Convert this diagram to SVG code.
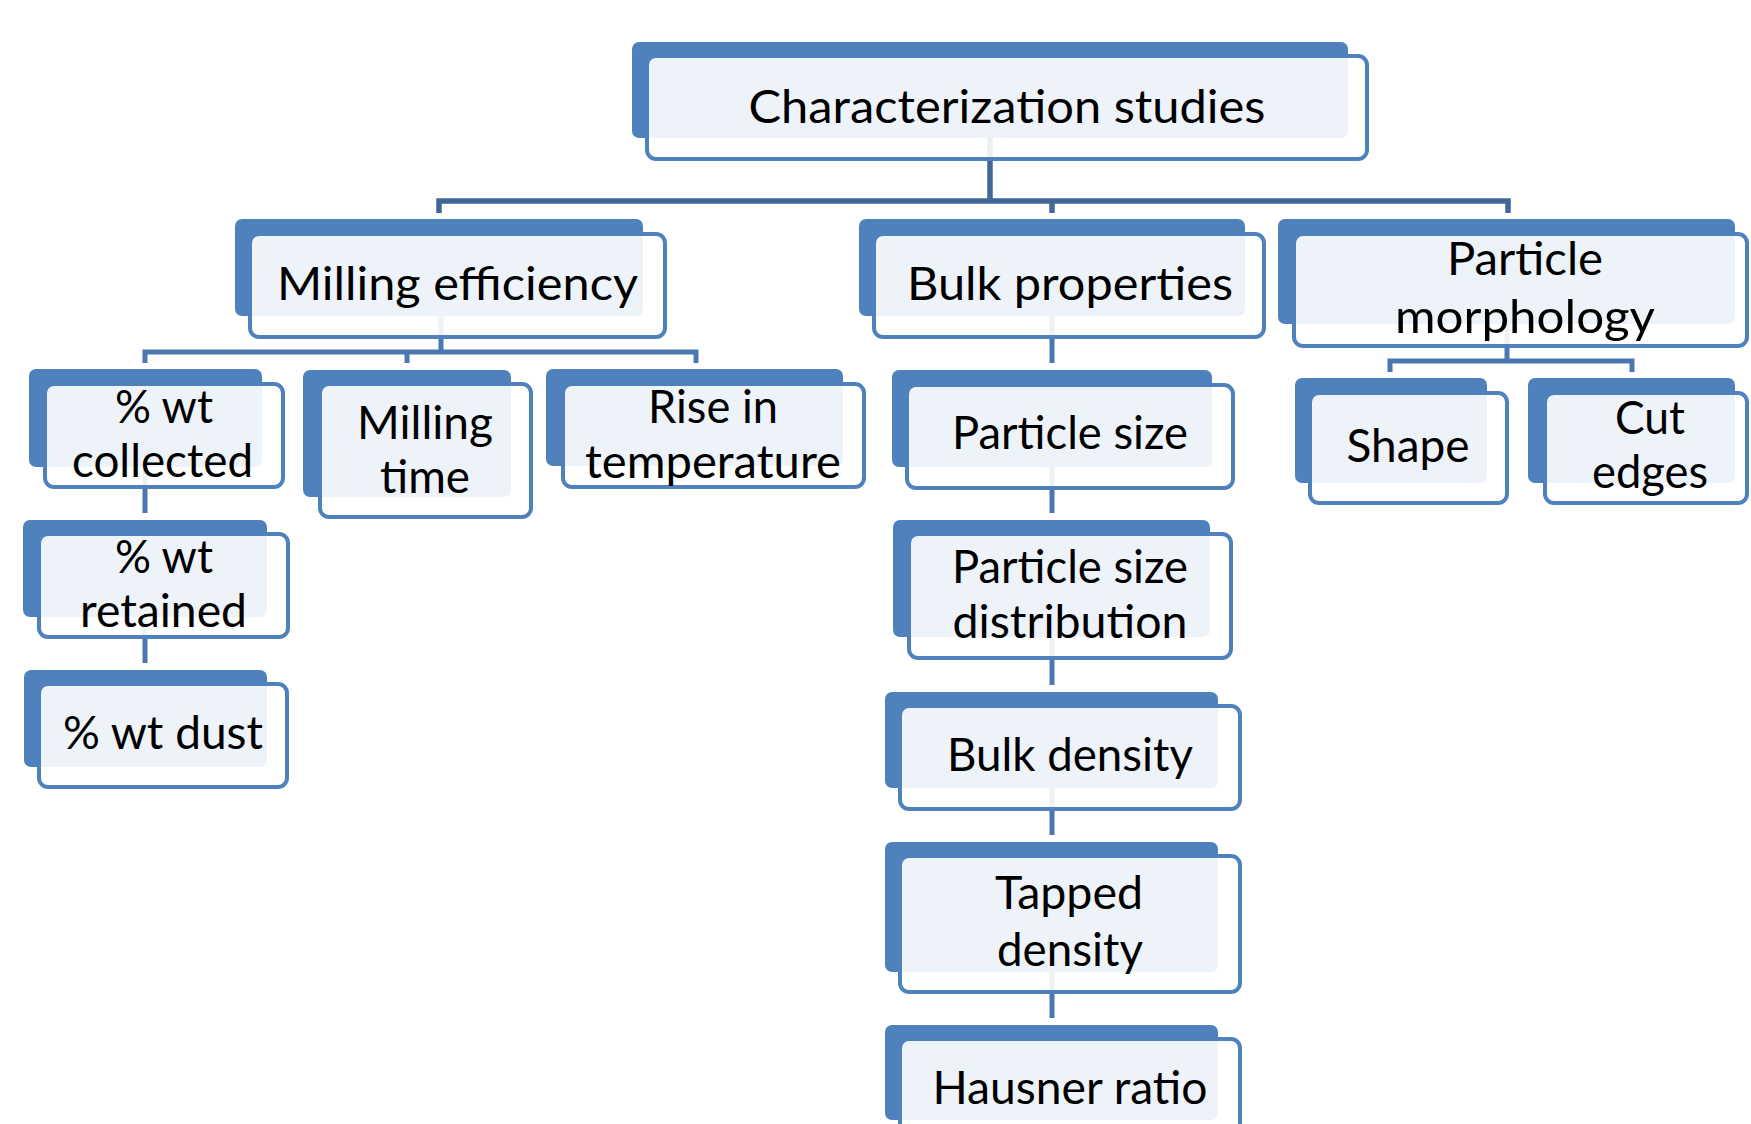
<svg xmlns="http://www.w3.org/2000/svg" width="1751" height="1124" viewBox="0 0 1751 1124">
<defs>
<style>
.back{fill:#4F81BD;}
.front{fill:#FFFFFF;fill-opacity:0.9;stroke:#4F81BD;stroke-width:4;}
.lbl{font-family:Lato,"Open Sans","Liberation Sans",sans-serif;font-size:47px;fill:#000000;text-anchor:middle;}
.conn{fill:none;stroke:#4A77B0;stroke-width:5;stroke-linejoin:miter;stroke-linecap:butt;}
.conn0{fill:none;stroke:#416796;stroke-width:5.5;stroke-linejoin:miter;stroke-linecap:butt;}
</style>
</defs>
<rect width="1751" height="1124" fill="#FFFFFF"/>
<g id="connectors">
<path class="conn0" d="M990 100 V201"/>
<path class="conn0" d="M439 213 V201 H1508 V213"/>
<path class="conn0" d="M1052 201 V213"/>
<path class="conn" d="M441 290 V352"/>
<path class="conn" d="M145 363 V352 H696 V363"/>
<path class="conn" d="M407 352 V363"/>
<path class="conn" d="M145 440 V513"/>
<path class="conn" d="M145 590 V663"/>
<path class="conn" d="M1052 290 V363"/>
<path class="conn" d="M1052 440 V513"/>
<path class="conn" d="M1052 600 V685"/>
<path class="conn" d="M1052 760 V835"/>
<path class="conn" d="M1052 930 V1018"/>
<path class="conn" d="M1507 300 V361"/>
<path class="conn" d="M1390 372 V361 H1632 V372"/>
</g>
<g id="node-root">
<rect class="back" x="632" y="42" width="716" height="96" rx="7"/>
<rect class="front" x="647" y="56" width="720" height="103" rx="9"/>
<text class="lbl" x="1007" y="123" textLength="517" lengthAdjust="spacingAndGlyphs">Characterization studies</text>
</g>
<g id="node-milling-efficiency">
<rect class="back" x="235" y="219" width="408" height="97" rx="7"/>
<rect class="front" x="250" y="234" width="415" height="103" rx="9"/>
<text class="lbl" x="457.5" y="300" textLength="361" lengthAdjust="spacingAndGlyphs">Milling efficiency</text>
</g>
<g id="node-bulk-properties">
<rect class="back" x="859" y="219" width="386" height="97" rx="7"/>
<rect class="front" x="874" y="234" width="390" height="103" rx="9"/>
<text class="lbl" x="1070" y="300" textLength="326" lengthAdjust="spacingAndGlyphs">Bulk properties</text>
</g>
<g id="node-particle-morphology">
<rect class="back" x="1278" y="219" width="457" height="105" rx="7"/>
<rect class="front" x="1294" y="234" width="453" height="112" rx="9"/>
<text class="lbl" x="1525" y="275" textLength="156" lengthAdjust="spacingAndGlyphs">Particle</text>
<text class="lbl" x="1525" y="333" textLength="260" lengthAdjust="spacingAndGlyphs">morphology</text>
</g>
<g id="node-wt-collected">
<rect class="back" x="29" y="369" width="233" height="98" rx="7"/>
<rect class="front" x="45" y="384" width="238" height="103" rx="9"/>
<text class="lbl" x="164" y="423" textLength="98" lengthAdjust="spacingAndGlyphs">% wt</text>
<text class="lbl" x="162.5" y="477" textLength="181" lengthAdjust="spacingAndGlyphs">collected</text>
</g>
<g id="node-wt-retained">
<rect class="back" x="23" y="520" width="244" height="97" rx="7"/>
<rect class="front" x="39" y="534" width="249" height="103" rx="9"/>
<text class="lbl" x="164" y="573" textLength="98" lengthAdjust="spacingAndGlyphs">% wt</text>
<text class="lbl" x="163.5" y="627" textLength="167" lengthAdjust="spacingAndGlyphs">retained</text>
</g>
<g id="node-wt-dust">
<rect class="back" x="24" y="670" width="243" height="97" rx="7"/>
<rect class="front" x="39" y="684" width="248" height="103" rx="9"/>
<text class="lbl" x="163" y="749" textLength="200" lengthAdjust="spacingAndGlyphs">% wt dust</text>
</g>
<g id="node-milling-time">
<rect class="back" x="303" y="370" width="208" height="127" rx="7"/>
<rect class="front" x="320" y="384" width="211" height="133" rx="9"/>
<text class="lbl" x="425" y="439" textLength="136" lengthAdjust="spacingAndGlyphs">Milling</text>
<text class="lbl" x="425" y="493" textLength="90" lengthAdjust="spacingAndGlyphs">time</text>
</g>
<g id="node-rise-in-temperature">
<rect class="back" x="546" y="369" width="297" height="97" rx="7"/>
<rect class="front" x="563" y="384" width="301" height="103" rx="9"/>
<text class="lbl" x="713" y="423" textLength="130" lengthAdjust="spacingAndGlyphs">Rise in</text>
<text class="lbl" x="713" y="478" textLength="256" lengthAdjust="spacingAndGlyphs">temperature</text>
</g>
<g id="node-particle-size">
<rect class="back" x="892" y="370" width="320" height="97" rx="7"/>
<rect class="front" x="907" y="385" width="326" height="103" rx="9"/>
<text class="lbl" x="1070" y="449" textLength="236" lengthAdjust="spacingAndGlyphs">Particle size</text>
</g>
<g id="node-particle-size-distribution">
<rect class="back" x="893" y="520" width="317" height="117" rx="7"/>
<rect class="front" x="909" y="534" width="322" height="124" rx="9"/>
<text class="lbl" x="1070" y="583" textLength="236" lengthAdjust="spacingAndGlyphs">Particle size</text>
<text class="lbl" x="1070" y="638" textLength="235" lengthAdjust="spacingAndGlyphs">distribution</text>
</g>
<g id="node-bulk-density">
<rect class="back" x="885" y="692" width="333" height="96" rx="7"/>
<rect class="front" x="900" y="706" width="340" height="103" rx="9"/>
<text class="lbl" x="1070" y="771" textLength="246" lengthAdjust="spacingAndGlyphs">Bulk density</text>
</g>
<g id="node-tapped-density">
<rect class="back" x="885" y="842" width="333" height="130" rx="7"/>
<rect class="front" x="900" y="856" width="340" height="136" rx="9"/>
<text class="lbl" x="1069" y="909" textLength="148" lengthAdjust="spacingAndGlyphs">Tapped</text>
<text class="lbl" x="1070" y="966" textLength="146" lengthAdjust="spacingAndGlyphs">density</text>
</g>
<g id="node-hausner-ratio">
<rect class="back" x="885" y="1025" width="333" height="95" rx="7"/>
<rect class="front" x="900" y="1039" width="340" height="103" rx="9"/>
<text class="lbl" x="1070" y="1104" textLength="275" lengthAdjust="spacingAndGlyphs">Hausner ratio</text>
</g>
<g id="node-shape">
<rect class="back" x="1295" y="378" width="192" height="105" rx="7"/>
<rect class="front" x="1310" y="393" width="197" height="110" rx="9"/>
<text class="lbl" x="1408" y="462" textLength="123" lengthAdjust="spacingAndGlyphs">Shape</text>
</g>
<g id="node-cut-edges">
<rect class="back" x="1528" y="378" width="207" height="105" rx="7"/>
<rect class="front" x="1545" y="393" width="202" height="110" rx="9"/>
<text class="lbl" x="1650" y="434" textLength="70" lengthAdjust="spacingAndGlyphs">Cut</text>
<text class="lbl" x="1650" y="488" textLength="116" lengthAdjust="spacingAndGlyphs">edges</text>
</g>
</svg>
